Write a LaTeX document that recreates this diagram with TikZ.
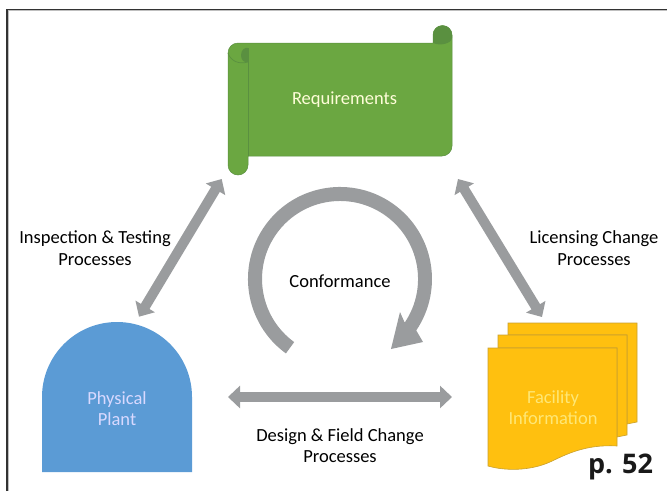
\documentclass[tikz,border=0pt]{standalone}
\usepackage{fontspec}
\setmainfont{Carlito}
\newfontfamily\pagefont{Open Sans}
\usetikzlibrary{arrows.meta}
\definecolor{reqgreen}{HTML}{6BA741}
\definecolor{reqdark}{HTML}{5A9040}
\definecolor{plantblue}{HTML}{5B9BD5}
\definecolor{docyellow}{HTML}{FFC00F}
\definecolor{docedge}{HTML}{C8A030}
\definecolor{flowgray}{HTML}{9A9C9E}
\definecolor{frameline}{HTML}{333333}
\tikzset{
  lbl/.style={font=\fontsize{18.5}{21.5}\selectfont,align=center,text=black,inner sep=0pt},
  inner/.style={font=\fontsize{18.5}{21.5}\selectfont,align=center,inner sep=0pt},
  sheet/.style={fill=docyellow,draw=docedge,line width=0.6pt},
  dblarrow/.style={draw=flowgray,line width=10pt,
    {Triangle[length=12pt,width=22pt]}-{Triangle[length=12pt,width=22pt]}},
}
\begin{document}
\begin{tikzpicture}[x=1pt,y=1pt,yscale=-1]
\useasboundingbox (0,0) rectangle (667,491);
% frame
\draw[frameline,line width=1.2pt] (7,491) -- (7,9.5) -- (667,9.5);
\draw[black!25,line width=0.8pt] (8,491) -- (8,10.6) -- (667,10.6);
% requirements scroll
\path[fill=reqgreen,draw=reqdark,line width=0.5pt]
  (238,43) -- (433,43) -- (433,35) arc[start angle=180,end angle=360,radius=9.5]
  -- (452,146) arc[start angle=0,end angle=90,radius=10]
  -- (248,156) -- (248,165) arc[start angle=0,end angle=180,radius=10]
  -- (228,53) arc[start angle=180,end angle=270,radius=10] -- cycle;
\fill[reqdark] (433,43) -- (433,35) arc[start angle=180,end angle=360,radius=9.5]
  -- (452,38) .. controls (451,44) and (440,46) .. cycle;
\fill[reqdark] (248,48) -- (248,62) .. controls (244,63) and (241,60) .. (241,55)
  .. controls (241,50) and (245,47) .. cycle;
\draw[reqdark,line width=0.7pt] (228,53) .. controls (230,60) and (238,65) .. (248,62);
\draw[reqdark,line width=0.9pt] (248,48) -- (248,156);
\node[inner,text=white!85!yellow] (req) at (344.5,100) {Requirements};
% physical plant
\path[fill=plantblue]
  (42,472) -- (42,397) arc[start angle=180,end angle=360,radius=75] -- (192,472) -- cycle;
\node[inner,text=white!85!blue] (plant) at (117,408.5) {Physical\\Plant};
% facility information
\path[sheet] (508,335) -- (508,323) -- (637,323) -- (637,422) -- (627,424) -- (627,335) -- cycle;
\path[sheet] (498,348) -- (498,335) -- (627,335) -- (627,435) -- (617,437) -- (617,348) -- cycle;
\path[sheet] (488,348) -- (617,348) -- (617,446)
  .. controls (585,444) and (565,455) .. (550,462)
  .. controls (530,471) and (505,471) .. (488,466) -- cycle;
\node[inner,text=yellow!35!white!70!docyellow] (facility) at (553,407.5) {Facility\\Information};
% conformance arrow
\fill[flowgray] (285.9,353.4) arc[start angle=126,end angle=394,radius=92]
  -- (423,342) -- (391,349) -- (400,312) -- (404.7,322.6)
  arc[start angle=394,end angle=126,radius=78] -- cycle;
\node[lbl] (conf) at (340,281) {Conformance};
% connectors
\coordinate (ul) at (221.7,179);
\coordinate (dl) at (139,316.7);
\coordinate (ur) at (458,179);
\coordinate (dr) at (542,317);
\coordinate (hl) at (228,397);
\coordinate (hr) at (452,397);
\draw[dblarrow] (ul) -- (dl);
\draw[dblarrow] (ur) -- (dr);
\draw[dblarrow] (hl) -- (hr);
% labels
\node[lbl] (insp) at (95,248) {Inspection \& Testing\\Processes};
\node[lbl] (lic) at (594,248) {Licensing Change\\Processes};
\node[lbl] (des) at (340,445.5) {Design \& Field Change\\Processes};
\node[anchor=base,inner sep=0pt,font=\pagefont\bfseries\fontsize{27}{27}\selectfont,text=black!90] (pg) at (620.5,473) {p. 52};
\end{tikzpicture}
\end{document}
